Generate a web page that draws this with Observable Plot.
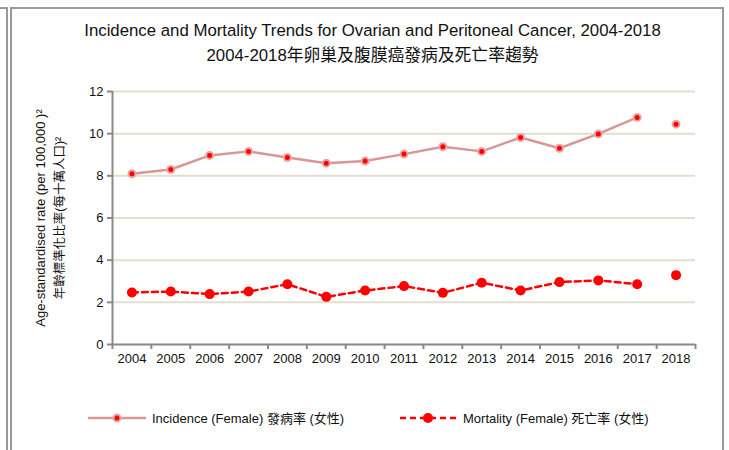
<!DOCTYPE html>
<html>
<head>
<meta charset="utf-8">
<script src="https://cdn.jsdelivr.net/npm/d3@7"></script>
<script src="https://cdn.jsdelivr.net/npm/@observablehq/plot@0.6"></script>
<style>
  html, body { margin: 0; padding: 0; background: #fff; }
  body { font-family: "Liberation Sans", Arial, "Noto Sans CJK TC", sans-serif; color: #111; }
  #wrap { position: relative; width: 729px; height: 450px; overflow: hidden; }
  .frame { position: absolute; background: #999; }
  #title { position: absolute; top: 18px; left: 0; width: 745px; text-align: center; font-size: 16.8px; line-height: 25px; }
  #chart { position: absolute; top: 75px; left: 0; }
  .ylab { position: absolute; white-space: nowrap; font-size: 13px; transform: translate(-50%, -50%) rotate(-90deg); }
  .leg { position: absolute; top: 408px; font-size: 13px; display: flex; align-items: center; white-space: nowrap; }
</style>
</head>
<body>
<div id="wrap">
  <div class="frame" style="left:0;top:7px;width:7px;height:2px"></div>
  <div class="frame" style="left:10px;top:7px;width:714px;height:2px"></div>
  <div class="frame" style="left:6px;top:7px;width:2px;height:443px"></div>
  <div class="frame" style="left:10px;top:7px;width:2px;height:443px"></div>
  <div class="frame" style="left:722px;top:7px;width:2px;height:443px"></div>
  <div id="title">
    <div>Incidence and Mortality Trends for Ovarian and Peritoneal Cancer, 2004-2018</div>
    <div>2004-2018年卵巢及腹膜癌發病及死亡率趨勢</div>
  </div>
  <div class="ylab" style="left:40px;top:218px">Age-standardised rate (per 100,000 )²</div>
  <div class="ylab" style="left:58px;top:218px;font-size:12.5px">年齡標準化比率(每十萬人口)²</div>
  <div id="chart"></div>
  <div class="leg" style="left:86px">
    <svg width="62" height="18"><line x1="2" y1="9" x2="60" y2="9" stroke="#d99694" stroke-width="2.5"/><circle cx="31" cy="9" r="3.5" fill="#ff0000" stroke="#e8a4a4" stroke-width="2"/></svg>
    <span style="margin-left:4px">Incidence (Female) 發病率 (女性)</span>
  </div>
  <div class="leg" style="left:398px">
    <svg width="62" height="18"><line x1="2" y1="9" x2="60" y2="9" stroke="#ff0000" stroke-width="2.5" stroke-dasharray="6,4"/><circle cx="30" cy="9" r="5" fill="#ff0000"/></svg>
    <span style="margin-left:3px">Mortality (Female) 死亡率 (女性)</span>
  </div>
</div>
<script>
const years = [2004, 2005, 2006, 2007, 2008, 2009, 2010, 2011, 2012, 2013, 2014, 2015, 2016, 2017, 2018];
const incidence = [8.1, 8.3, 8.97, 9.16, 8.87, 8.6, 8.7, 9.03, 9.38, 9.16, 9.82, 9.31, 9.99, 10.77, 10.45];
const mortality = [2.47, 2.51, 2.39, 2.51, 2.86, 2.26, 2.56, 2.77, 2.45, 2.93, 2.56, 2.96, 3.04, 2.86, 3.29];
const yTicks = [0, 2, 4, 6, 8, 10, 12];
const lastConnectedYear = 2017;

const inc = years.map((year, i) => ({year, value: incidence[i]}));
const mor = years.map((year, i) => ({year, value: mortality[i]}));
const edges = [years[0] - 0.5, ...years.map(y => y + 0.5)];

const chart = Plot.plot({
  width: 729,
  height: 310,
  marginLeft: 112,
  marginRight: 34,
  marginTop: 16,
  marginBottom: 41,
  style: { fontFamily: '"Liberation Sans", Arial, sans-serif', fontSize: "13px", color: "#111", background: "transparent" },
  x: { type: "linear", domain: [years[0] - 0.5, years[years.length - 1] + 0.5] },
  y: { domain: [0, 12] },
  marks: [
    Plot.ruleY(yTicks.filter(d => d > 0), { stroke: "#e2dfcf", strokeWidth: 2 }),
    Plot.axisY({ ticks: yTicks, tickSize: 5, tickPadding: 4, stroke: "#888", strokeWidth: 2, label: null, fontSize: 13 }),
    Plot.axisX({ ticks: edges, tickSize: 5, tickFormat: () => "", stroke: "#888", strokeWidth: 2, label: null }),
    Plot.axisX({ ticks: years, tickSize: 0, tickPadding: 9, tickFormat: d => String(d), label: null, fontSize: 13 }),
    Plot.ruleX([edges[0]], { stroke: "#888", strokeWidth: 2 }),
    Plot.ruleY([0], { stroke: "#888", strokeWidth: 2 }),
    Plot.line(inc.filter(d => d.year <= lastConnectedYear), { x: "year", y: "value", stroke: "#d99694", strokeWidth: 2.5 }),
    Plot.dot(inc, { x: "year", y: "value", r: 3.5, fill: "#ff0000", stroke: "#e8a4a4", strokeWidth: 2 }),
    Plot.line(mor.filter(d => d.year <= lastConnectedYear), { x: "year", y: "value", stroke: "#ff0000", strokeWidth: 2.5, strokeDasharray: "6,4" }),
    Plot.dot(mor, { x: "year", y: "value", r: 5, fill: "#ff0000", stroke: "none" })
  ]
});
document.getElementById("chart").appendChild(chart);
</script>
</body>
</html>
